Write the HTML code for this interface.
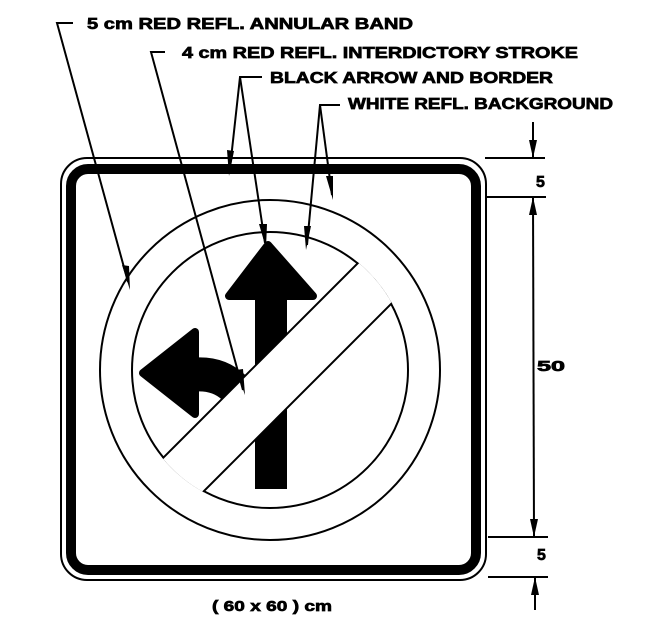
<!DOCTYPE html>
<html><head><meta charset="utf-8"><style>
html,body{margin:0;padding:0;background:#fff;width:658px;height:631px;overflow:hidden}
svg{display:block}
text{font-family:"Liberation Sans",sans-serif;font-weight:bold;fill:#000;stroke:#000;stroke-width:0.7}
</style></head><body>
<svg width="658" height="631" viewBox="0 0 658 631" xmlns="http://www.w3.org/2000/svg">
<defs>
<clipPath id="ic"><circle cx="270" cy="370" r="139"/></clipPath>
</defs>
<rect x="61" y="158" width="425" height="422" rx="26" fill="#fff" stroke="#000" stroke-width="2"/>
<rect x="71" y="169" width="405" height="401" rx="17" fill="none" stroke="#000" stroke-width="10"/>
<circle cx="270" cy="370" r="170" fill="none" stroke="#000" stroke-width="2"/>
<circle cx="270" cy="370" r="138" fill="none" stroke="#000" stroke-width="2"/>
<g fill="#000" stroke="#000" stroke-linejoin="round">
<polygon points="268,245 229,296 313,296" stroke-width="8"/>
<rect x="255" y="290" width="32" height="199" stroke="none"/>
<polygon points="143,373 195,332 195,414" stroke-width="8"/>
<path d="M190 375 Q245 368 256 440" fill="none" stroke-width="34" stroke-linejoin="miter"/>
</g>
<g clip-path="url(#ic)">
<polygon points="121,500 400,221 437,258 158,537" fill="#fff"/>
<line x1="121" y1="500" x2="400" y2="221" stroke="#000" stroke-width="2"/>
<line x1="158" y1="537" x2="437" y2="258" stroke="#000" stroke-width="2"/>
</g>
<g stroke="#000" stroke-width="2" fill="none">
<polyline points="73,23 57,23 128,282"/>
<polyline points="165,52 151,52 243,390"/>
<polyline points="262,77 240,77 230,168"/>
<line x1="240" y1="77" x2="265" y2="243"/>
<polyline points="340,105 320,105 307,245"/>
<line x1="320" y1="105" x2="332" y2="195"/>
</g>
<g fill="#000">
<polygon points="130,290 122,265 129,266"/>
<polygon points="245,395 236,370 243,369"/>
<polygon points="229,176 227,150 234,151"/>
<polygon points="266,248 259,224 267,224"/>
<polygon points="306,250 304,226 311,226"/>
<polygon points="333,200 326,176 333,176"/>
</g>
<text x="87" y="29" font-size="16" textLength="326" lengthAdjust="spacingAndGlyphs">5 cm RED REFL. ANNULAR BAND</text>
<text x="182" y="58" font-size="16" textLength="396" lengthAdjust="spacingAndGlyphs">4 cm RED REFL. INTERDICTORY STROKE</text>
<text x="270" y="83" font-size="16" textLength="283" lengthAdjust="spacingAndGlyphs">BLACK ARROW AND BORDER</text>
<text x="348" y="109" font-size="16" textLength="265" lengthAdjust="spacingAndGlyphs">WHITE REFL. BACKGROUND</text>
<g stroke="#000" stroke-width="2" fill="none">
<line x1="485" y1="158" x2="545" y2="158"/>
<line x1="485" y1="197" x2="546" y2="197"/>
<line x1="488" y1="537" x2="548" y2="537"/>
<line x1="488" y1="577" x2="548" y2="577"/>
<line x1="533" y1="122" x2="533" y2="158"/>
<line x1="533" y1="197" x2="534" y2="537"/>
<line x1="535" y1="577" x2="535" y2="610"/>
</g>
<g fill="#000">
<polygon points="533,158 529,140 537,140"/>
<polygon points="533,197 529,215 537,215"/>
<polygon points="534,537 530,519 538,519"/>
<polygon points="535,577 531,595 539,595"/>
</g>
<text x="536" y="187" font-size="16">5</text>
<text x="537" y="371" font-size="15" textLength="28" lengthAdjust="spacingAndGlyphs">50</text>
<text x="537" y="560" font-size="16">5</text>
<text x="212" y="611" font-size="15" textLength="120" lengthAdjust="spacingAndGlyphs">( 60 x 60 ) cm</text>
</svg>
</body></html>
